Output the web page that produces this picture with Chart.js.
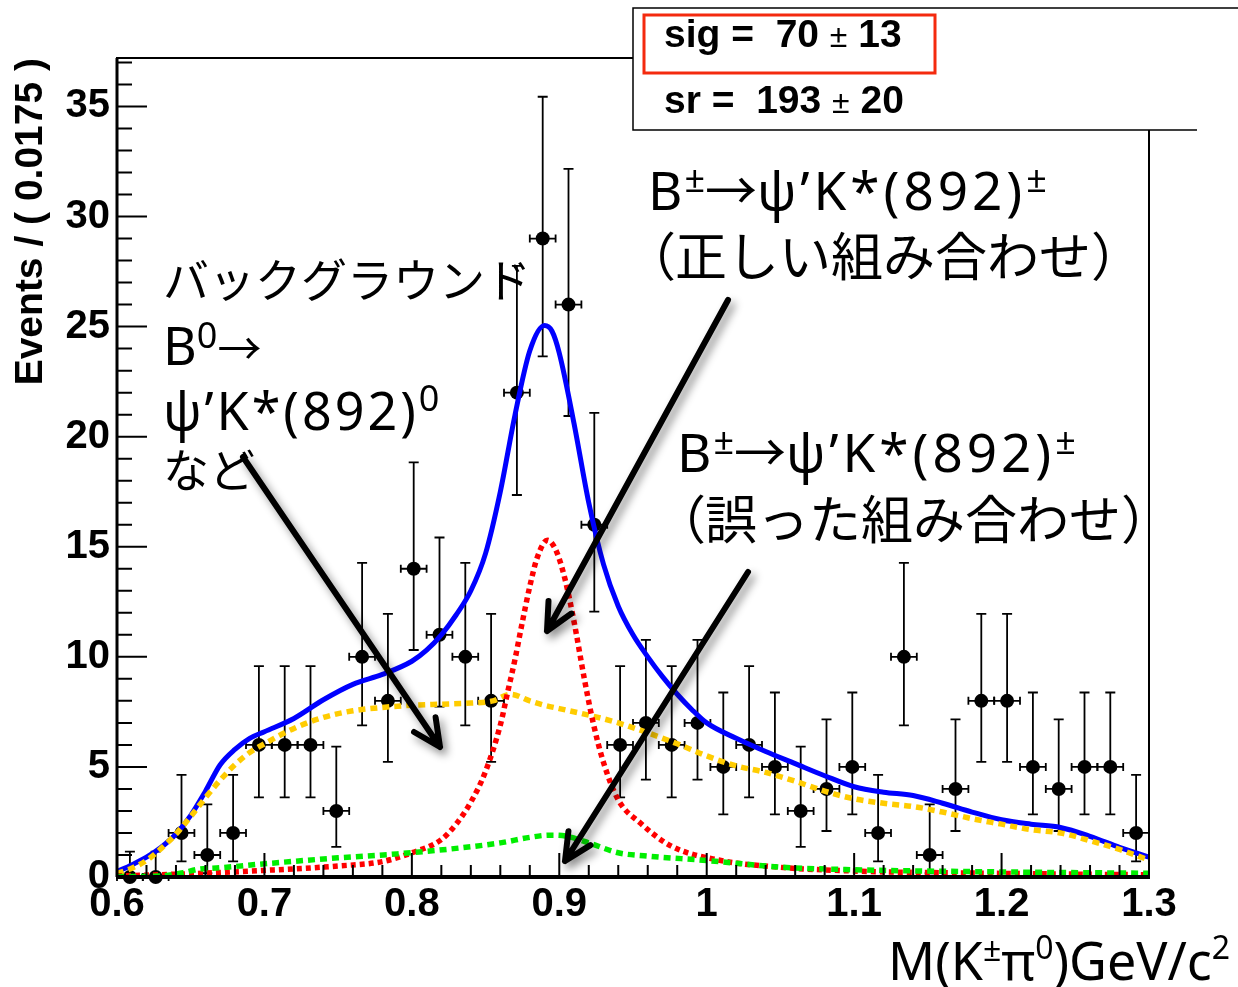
<!DOCTYPE html>
<html lang="ja">
<head>
<meta charset="UTF-8">
<title>M(K±π0) fit</title>
<script src="https://cdn.jsdelivr.net/npm/chart.js"></script>
<style>
  body { margin: 0; background: #fff; }
  #wrap { width: 1238px; height: 987px; position: relative; }
</style>
</head>
<body>
<div id="wrap"><canvas id="c"></canvas></div>
<script>
// --- binned data, 40 bins of 0.0175 between 0.6 and 1.3
const binWidth = 0.0175;
const binCenters = [0.60875, 0.62625, 0.64375, 0.66125, 0.67875, 0.69625, 0.71375, 0.73125, 0.74875, 0.76625,
                    0.78375, 0.80125, 0.81875, 0.83625, 0.85375, 0.87125, 0.88875, 0.90625, 0.92375, 0.94125,
                    0.95875, 0.97625, 0.99375, 1.01125, 1.02875, 1.04625, 1.06375, 1.08125, 1.09875, 1.11625,
                    1.13375, 1.15125, 1.16875, 1.18625, 1.20375, 1.22125, 1.23875, 1.25625, 1.27375, 1.29125];
const counts = [0, 0, 2, 1, 2, 6, 6, 6, 3, 10, 8, 14, 11, 10, 8, 22, 29, 26, 16, 6,
                7, 6, 7, 5, 6, 5, 3, 4, 5, 2, 10, 1, 4, 8, 8, 5, 4, 5, 5, 2];
// ends of the vertical error bars
const errLow = [0, 0, 0.71, 0.17, 0.71, 3.62, 3.62, 3.62, 1.37, 6.89, 5.23, 10.31, 7.74, 6.89, 5.23, 17.35, 23.65, 20.94, 12.05, 3.62,
                4.42, 3.62, 4.42, 2.84, 3.62, 2.84, 1.37, 2.09, 2.84, 0.71, 6.89, 0.17, 2.09, 5.23, 5.23, 2.84, 2.09, 2.84, 2.84, 0.71];
const errHigh = [1.15, 1.15, 4.64, 3.30, 4.64, 9.58, 9.58, 9.58, 5.92, 14.27, 11.95, 18.83, 15.42, 14.27, 11.95, 27.76, 35.44, 32.16, 21.08, 9.58,
                 10.77, 9.58, 10.77, 8.38, 9.58, 8.38, 5.92, 7.16, 8.38, 4.64, 14.27, 3.30, 7.16, 11.95, 11.95, 8.38, 7.16, 8.38, 8.38, 4.64];

// --- fit curves
const totalX = [0.60, 0.61, 0.62, 0.63, 0.64, 0.65, 0.66, 0.67, 0.68, 0.69, 0.70, 0.72, 0.74, 0.76, 0.78, 0.80, 0.81, 0.82, 0.83, 0.84,
                0.85, 0.86, 0.87, 0.88, 0.89, 0.895, 0.90, 0.91, 0.92, 0.93, 0.94, 0.95, 0.96, 0.97, 0.98, 0.99, 1.00, 1.02, 1.04, 1.06,
                1.08, 1.10, 1.12, 1.14, 1.16, 1.18, 1.20, 1.22, 1.24, 1.26, 1.28, 1.30];
const totalY = [0.25, 0.55, 0.9, 1.35, 1.95, 2.8, 3.9, 5.1, 5.8, 6.3, 6.6, 7.2, 8.05, 8.75, 9.2, 9.8, 10.3, 11.0, 11.9, 13.0,
                14.7, 17.5, 21.0, 23.9, 25.05, 24.8, 23.8, 20.6, 17.0, 14.2, 12.3, 11.0, 10.0, 9.1, 8.3, 7.6, 7.0, 6.3, 5.7, 5.15,
                4.6, 4.1, 3.85, 3.7, 3.35, 2.95, 2.6, 2.4, 2.25, 1.85, 1.35, 0.9];

const bkgX = [0.60, 0.61, 0.62, 0.63, 0.64, 0.65, 0.66, 0.67, 0.68, 0.69, 0.70, 0.72, 0.74, 0.76, 0.78, 0.80, 0.82, 0.84, 0.855, 0.867,
              0.88, 0.89, 0.90, 0.92, 0.94, 0.96, 0.98, 1.00, 1.02, 1.04, 1.06, 1.08, 1.10, 1.12, 1.14, 1.16, 1.18, 1.20, 1.22, 1.24,
              1.26, 1.28, 1.30];
const bkgY = [0.15, 0.4, 0.75, 1.3, 1.95, 2.75, 3.6, 4.4, 5.1, 5.65, 6.05, 6.75, 7.25, 7.55, 7.7, 7.8, 7.85, 7.9, 8.0, 8.3,
              8.0, 7.8, 7.65, 7.35, 7.0, 6.55, 6.05, 5.5, 5.05, 4.75, 4.35, 3.9, 3.55, 3.35, 3.2, 2.95, 2.65, 2.4, 2.15, 2.0,
              1.65, 1.25, 0.77];

const sigX = [0.60, 0.65, 0.70, 0.75, 0.78, 0.80, 0.82, 0.83, 0.84, 0.85, 0.86, 0.865, 0.87, 0.875, 0.88, 0.885, 0.892, 0.898, 0.904, 0.91,
              0.917, 0.923, 0.93, 0.94, 0.955, 0.976, 1.008, 1.048, 1.10, 1.18, 1.30];
const sigY = [0.05, 0.15, 0.3, 0.5, 0.7, 1.1, 1.7, 2.4, 3.4, 4.8, 6.9, 8.4, 9.9, 11.6, 13.2, 14.5, 15.3, 14.8, 13.5, 11.6,
              9.0, 7.0, 5.2, 3.5, 2.45, 1.4, 0.77, 0.45, 0.27, 0.18, 0.1];

const misX = [0.60, 0.63, 0.645, 0.655, 0.67, 0.70, 0.75, 0.79, 0.83, 0.86, 0.88, 0.893, 0.905, 0.92, 0.94, 0.96, 1.00, 1.05, 1.10, 1.20, 1.30];
const misY = [0.02, 0.05, 0.2, 0.35, 0.42, 0.6, 0.87, 1.05, 1.3, 1.55, 1.8, 1.9, 1.85, 1.55, 1.1, 0.95, 0.75, 0.45, 0.33, 0.23, 0.17];

// --- axes
const xTicks = [0.6, 0.7, 0.8, 0.9, 1.0, 1.1, 1.2, 1.3];
const xTickLabels = ['0.6', '0.7', '0.8', '0.9', '1', '1.1', '1.2', '1.3'];
const yTicks = [0, 5, 10, 15, 20, 25, 30, 35];
const yTickLabels = ['0', '5', '10', '15', '20', '25', '30', '35'];

const LAT = '"Noto Sans", sans-serif';
const JP = '"Noto Sans CJK JP", sans-serif';
const BOLD = '"Liberation Sans", Arial, sans-serif';

const toXY = (xs, ys) => xs.map((x, i) => ({ x: x, y: ys[i] }));

function curve(xs, ys, color, dash, order) {
  return {
    type: 'line', data: toXY(xs, ys), borderColor: color, borderWidth: dash.length ? 5.5 : 5,
    borderDash: dash, pointRadius: 0, fill: false, cubicInterpolationMode: 'monotone', order: order
  };
}

// vertical and horizontal error bars under the points
const errorBars = {
  id: 'errorBars',
  beforeDatasetsDraw(chart) {
    const { ctx, scales: { x, y } } = chart;
    ctx.save();
    ctx.strokeStyle = '#000';
    ctx.lineWidth = 1.8;
    binCenters.forEach((c, i) => {
      const px = x.getPixelForValue(c);
      const py = y.getPixelForValue(counts[i]);
      const xl = x.getPixelForValue(c - binWidth / 2);
      const xr = x.getPixelForValue(c + binWidth / 2);
      const yt = y.getPixelForValue(errHigh[i]);
      const yb = y.getPixelForValue(errLow[i]);
      ctx.beginPath();
      ctx.moveTo(xl, py); ctx.lineTo(xr, py);
      ctx.moveTo(xl, py - 4); ctx.lineTo(xl, py + 4);
      ctx.moveTo(xr, py - 4); ctx.lineTo(xr, py + 4);
      ctx.moveTo(px, yt); ctx.lineTo(px, yb);
      ctx.moveTo(px - 5, yt); ctx.lineTo(px + 5, yt);
      if (errLow[i] > 0) { ctx.moveTo(px - 5, yb); ctx.lineTo(px + 5, yb); }
      ctx.stroke();
    });
    ctx.restore();
  }
};

// ROOT style frame with ticks inside
const frame = {
  id: 'frame',
  afterDatasetsDraw(chart) {
    const { ctx, chartArea: a, scales: { x, y } } = chart;
    ctx.save();
    ctx.strokeStyle = '#000';
    ctx.lineWidth = 2;
    ctx.strokeRect(a.left, a.top, a.right - a.left, a.bottom - a.top);
    ctx.beginPath();
    ctx.lineWidth = 3;
    ctx.moveTo(a.left, a.top); ctx.lineTo(a.left, a.bottom);
    ctx.stroke();
    ctx.beginPath();
    ctx.lineWidth = 4;
    ctx.moveTo(a.left - 1, a.bottom); ctx.lineTo(a.right + 1, a.bottom);
    ctx.stroke();

    ctx.lineWidth = 2;
    ctx.beginPath();
    for (let v = 0; v <= 37; v++) {
      const py = y.getPixelForValue(v);
      ctx.moveTo(a.left, py);
      ctx.lineTo(a.left + (v % 5 === 0 ? 30 : 15), py);
    }
    for (let k = 0; k <= 35; k++) {
      const px = x.getPixelForValue(0.6 + k * 0.02);
      ctx.moveTo(px, a.bottom);
      ctx.lineTo(px, a.bottom - (k % 5 === 0 ? 24 : 12));
    }
    ctx.stroke();
    ctx.restore();
  }
};

// draw runs of text one after the other: [text, font, rise, letterSpacing]
function rich(ctx, x, y, parts) {
  parts.forEach(p => {
    ctx.font = p[1];
    ctx.letterSpacing = (p[3] || 0) + 'px';
    ctx.fillText(p[0], x, y - (p[2] || 0));
    x += ctx.measureText(p[0]).width;
  });
  ctx.letterSpacing = '0px';
}

function arrow(ctx, x1, y1, x2, y2) {
  const ang = Math.atan2(y2 - y1, x2 - x1);
  const back = ang + Math.PI;
  const len = 30, spread = 0.45;
  ctx.save();
  ctx.strokeStyle = '#000';
  ctx.lineWidth = 6;
  ctx.lineCap = 'round';
  ctx.lineJoin = 'round';
  ctx.shadowColor = 'rgba(0,0,0,0.45)';
  ctx.shadowBlur = 8;
  ctx.shadowOffsetX = 4;
  ctx.shadowOffsetY = 5;
  ctx.beginPath();
  ctx.moveTo(x1, y1); ctx.lineTo(x2, y2);
  ctx.moveTo(x2 + len * Math.cos(back - spread), y2 + len * Math.sin(back - spread));
  ctx.lineTo(x2, y2);
  ctx.lineTo(x2 + len * Math.cos(back + spread), y2 + len * Math.sin(back + spread));
  ctx.stroke();
  ctx.restore();
}

function bracketed(ctx, x, y, text) {
  ctx.font = '52px ' + JP;
  ctx.fillText('（', x - 27, y);
  ctx.fillText(text, x + 24, y);
  ctx.fillText('）', x + 24 + ctx.measureText(text).width, y);
}

const notes = {
  id: 'notes',
  afterDraw(chart) {
    const ctx = chart.ctx;
    ctx.save();
    ctx.fillStyle = '#000';
    ctx.textBaseline = 'alphabetic';
    ctx.textAlign = 'left';

    // x axis title
    rich(ctx, 888, 980, [['M(K', '52px ' + LAT], ['±', '32px ' + LAT, 19], ['π', '52px ' + LAT],
      ['0', '32px ' + LAT, 21], [')GeV/c', '52px ' + LAT], ['2', '32px ' + LAT, 21]]);

    // labels on the left
    ctx.font = '46px ' + JP;
    ctx.fillText('バックグラウンド', 163, 297);
    rich(ctx, 163, 365, [['B', '52px ' + LAT], ['0', '36px ' + LAT, 17], ['→', '44px ' + JP]]);
    rich(ctx, 163, 430, [['ψ’K*(892)', '52px ' + LAT, 0, 3], ['0', '36px ' + LAT, 19]]);
    ctx.font = '46px ' + JP;
    ctx.fillText('など', 163, 487);

    // labels on the right
    const decay = [['B', '53px ' + LAT, 0, 2], ['±', '36px ' + LAT, 18], ['→', '52px ' + JP],
                   ['ψ’K*(892)', '53px ' + LAT, 0, 4], ['±', '36px ' + LAT, 18]];
    rich(ctx, 648, 210, decay);
    bracketed(ctx, 651, 276, '正しい組み合わせ');
    rich(ctx, 677, 472, decay);
    bracketed(ctx, 681, 539, '誤った組み合わせ');

    arrow(ctx, 243, 457, 440, 747);
    arrow(ctx, 728, 300, 547, 631);
    arrow(ctx, 748, 572, 565, 861);

    // fit result box
    ctx.fillStyle = '#fff';
    ctx.fillRect(633, 8, 610, 122);
    ctx.strokeStyle = '#000';
    ctx.lineWidth = 1.5;
    ctx.beginPath();
    ctx.moveTo(1238, 8); ctx.lineTo(633, 8); ctx.lineTo(633, 130); ctx.lineTo(1197, 130);
    ctx.stroke();
    ctx.strokeStyle = '#f42a0e';
    ctx.lineWidth = 3;
    ctx.strokeRect(644, 15, 291, 58);
    ctx.fillStyle = '#000';
    rich(ctx, 664, 47, [['sig =  70 ', 'bold 39px ' + BOLD], ['±', '32px ' + BOLD], [' 13', 'bold 39px ' + BOLD]]);
    rich(ctx, 664, 113, [['sr =  193 ', 'bold 39px ' + BOLD], ['±', '32px ' + BOLD], [' 20', 'bold 39px ' + BOLD]]);
    ctx.restore();
  }
};

new Chart(document.getElementById('c'), {
  type: 'scatter',
  data: {
    datasets: [
      {
        label: 'data', data: toXY(binCenters, counts), backgroundColor: '#000', borderWidth: 0,
        pointRadius: 7, clip: false, order: 10
      },
      curve(totalX, totalY, '#0000ff', [], 4),
      curve(bkgX, bkgY, '#ffcc00', [7, 5], 3),
      curve(sigX, sigY, '#ff0000', [5, 4], 2),
      curve(misX, misY, '#00ee00', [7, 5], 1)
    ]
  },
  options: {
    responsive: true,
    maintainAspectRatio: false,
    animation: false,
    layout: { padding: { top: 58, right: 89, left: 0, bottom: 0 } },
    plugins: { legend: { display: false }, tooltip: { enabled: false } },
    scales: {
      x: {
        type: 'linear', min: 0.6, max: 1.3,
        grid: { display: false, drawTicks: false }, border: { display: false },
        afterFit: s => { s.height = 110; },
        afterBuildTicks: s => { s.ticks = xTicks.map(v => ({ value: v })); },
        ticks: {
          padding: 4, color: '#000', maxRotation: 0, autoSkip: false,
          font: { family: BOLD, weight: 'bold', size: 40 },
          callback: (v, i) => xTickLabels[i]
        }
      },
      y: {
        type: 'linear', min: 0, max: 37.2,
        grid: { display: false, drawTicks: false }, border: { display: false },
        afterFit: s => { s.width = 117; },
        afterBuildTicks: s => { s.ticks = yTicks.map(v => ({ value: v })); },
        ticks: {
          padding: 7, color: '#000',
          font: { family: BOLD, weight: 'bold', size: 40 },
          callback: (v, i) => yTickLabels[i]
        },
        title: {
          display: true, text: 'Events / ( 0.0175 )', align: 'end', color: '#000',
          font: { family: BOLD, weight: 'bold', size: 39 }, padding: { top: 8, bottom: 0 }
        }
      }
    }
  },
  plugins: [errorBars, frame, notes]
});
</script>
</body>
</html>
